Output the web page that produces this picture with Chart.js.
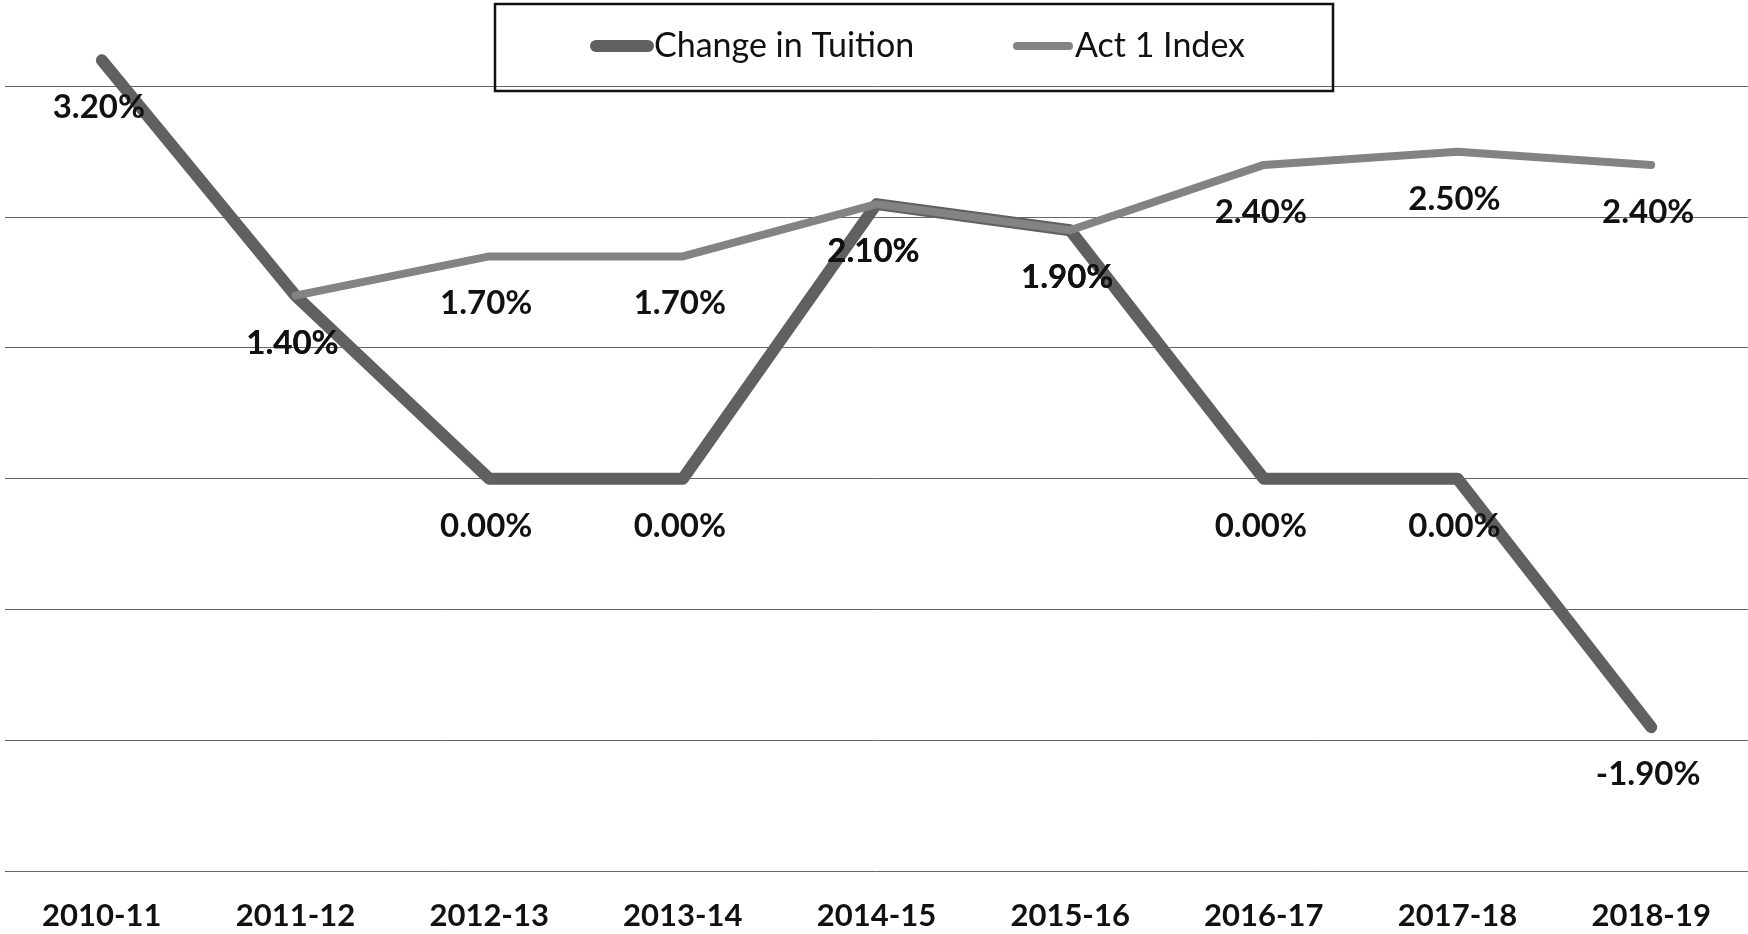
<!DOCTYPE html>
<html>
<head>
<meta charset="utf-8">
<title>Change in Tuition vs Act 1 Index</title>
<script src="https://cdn.jsdelivr.net/npm/chart.js@4.4.1/dist/chart.umd.min.js"></script>
<style>
    html, body { margin: 0; padding: 0; background: #fff; }
    canvas { display: block; }
</style>
</head>
<body>
<canvas id="ChartTuition" width="1748" height="934"></canvas>
<script>
// Chart data
const categories = ['2010-11', '2011-12', '2012-13', '2013-14', '2014-15', '2015-16', '2016-17', '2017-18', '2018-19'];
const changeInTuition = [3.2, 1.4, 0.0, 0.0, 2.1, 1.9, 0.0, 0.0, -1.9];
const act1Index = [null, 1.4, 1.7, 1.7, 2.1, 1.9, 2.4, 2.5, 2.4];
const yGridValues = [-3, -2, -1, 0, 1, 2, 3];

// Legend drawn as a framed box sitting over the top of the plot
const boxLegend = {
    id: 'boxLegend',
    afterDraw(chart) {
        const ctx = chart.ctx;
        ctx.save();
        ctx.strokeStyle = '#111';
        ctx.lineWidth = 2.5;
        ctx.strokeRect(495, 4, 838, 87);

        const items = [
            { ds: chart.data.datasets[0], x: 592 },
            { ds: chart.data.datasets[1], x: 1013 }
        ];
        items.forEach(item => {
            ctx.strokeStyle = item.ds.borderColor;
            ctx.lineWidth = item.ds.borderWidth;
            ctx.lineCap = 'round';
            ctx.beginPath();
            ctx.moveTo(item.x + 4, 46);
            ctx.lineTo(item.x + 56, 46);
            ctx.stroke();
            ctx.fillStyle = '#111';
            ctx.font = '34px Lato';
            ctx.textAlign = 'left';
            ctx.textBaseline = 'alphabetic';
            ctx.fillText(item.ds.label, item.x + 62, 57);
        });
        ctx.restore();
    }
};

// Value labels under every point
const pointLabels = {
    id: 'pointLabels',
    afterDatasetsDraw(chart) {
        const ctx = chart.ctx;
        ctx.save();
        ctx.fillStyle = '#111';
        ctx.font = 'bold 33px Lato';
        ctx.textAlign = 'center';
        ctx.textBaseline = 'alphabetic';
        chart.data.datasets.forEach((ds, i) => {
            const meta = chart.getDatasetMeta(i);
            meta.data.forEach((pt, j) => {
                const v = ds.data[j];
                if (v === null) return;
                ctx.fillText(v.toFixed(2) + '%', pt.x - 3, pt.y + 58);
            });
        });
        ctx.restore();
    }
};

new Chart(document.getElementById('ChartTuition'), {
    type: 'line',
    data: {
        labels: categories,
        datasets: [{
            label: 'Change in Tuition',
            data: changeInTuition,
            borderColor: '#606060',
            borderWidth: 12,
            pointRadius: 0,
            borderJoinStyle: 'round',
            borderCapStyle: 'round',
            tension: 0,
            order: 1
        }, {
            label: 'Act 1 Index',
            data: act1Index,
            borderColor: '#838383',
            borderWidth: 8,
            pointRadius: 0,
            borderJoinStyle: 'round',
            borderCapStyle: 'round',
            tension: 0,
            order: 0
        }]
    },
    options: {
        responsive: false,
        animation: false,
        layout: {
            autoPadding: false,
            padding: { left: 5, right: 0, top: 8, bottom: 0 }
        },
        plugins: {
            legend: { display: false },
            tooltip: { enabled: false }
        },
        scales: {
            x: {
                offset: true,
                grid: { display: false, drawTicks: false },
                border: { display: false },
                afterFit: scale => { scale.height = 63; },
                ticks: {
                    color: '#111',
                    padding: 26,
                    maxRotation: 0,
                    autoSkip: false,
                    font: { family: 'Lato', size: 31, weight: 'bold' }
                }
            },
            y: {
                min: -3,
                max: 3.6,
                afterBuildTicks: scale => {
                    scale.ticks = yGridValues.map(v => ({ value: v }));
                },
                ticks: { display: false },
                border: { display: false },
                grid: {
                    color: '#666',
                    lineWidth: 1,
                    drawTicks: false
                }
            }
        }
    },
    plugins: [pointLabels, boxLegend]
});
</script>
</body>
</html>
